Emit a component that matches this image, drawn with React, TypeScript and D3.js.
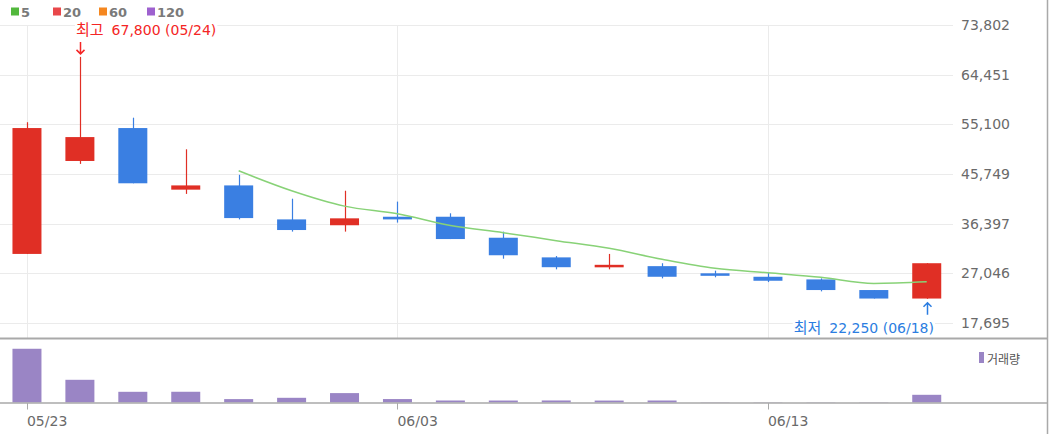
import React, { useEffect, useRef } from "react";
import * as d3 from "d3";

// trading days shown on the chart
const dates = [
  "05/23", "05/24", "05/27", "05/28", "05/29", "05/30", "05/31", "06/03", "06/04",
  "06/05", "06/07", "06/10", "06/11", "06/12", "06/13", "06/14", "06/17", "06/18",
];
const opens = [30700, 48200, 54400, 42800, 43600, 37200, 36100, 37700, 37700, 33750, 30050, 28200, 28400, 27050, 26400, 25900, 23900, 22300];
const highs = [55500, 67800, 56350, 50400, 45600, 41100, 42600, 40550, 38350, 34900, 30300, 30700, 28950, 27550, 27150, 26100, 23900, 28950];
const lows = [30700, 47650, 44000, 42000, 37200, 34900, 34900, 36600, 33500, 29800, 27800, 27800, 26100, 26300, 25400, 23650, 22300, 22250];
const closes = [54400, 52700, 44000, 43600, 37450, 35200, 37400, 37200, 33500, 30450, 28200, 28650, 26400, 26800, 25650, 23900, 22300, 28950];
// 5-day moving average
const ma5: (number | null)[] = [null, null, null, null, 46350, 42600, 39700, 38250, 36050, 34700, 33200, 31750, 29700, 28000, 27150, 26300, 25150, 25450];
const volumes = [1612000, 681000, 321000, 322000, 102000, 141000, 282000, 103000, 60000, 59000, 61000, 58000, 60000, 9000, 8000, 7000, 9000, 231000];

const priceTicks = [17695, 27046, 36397, 45749, 55100, 64451, 73802];
const dateTicks = ["05/23", "06/03", "06/13"];
const maLabels = ["5", "20", "60", "120"];
const maColors = ["#52b83c", "#e9474a", "#f5871f", "#9e61cf"];

const UP = "#e02f25";
const DOWN = "#3a7fe2";
const VOL = "#9a85c5";
const FONT = "'DejaVu Sans', 'Noto Sans CJK KR', sans-serif";
const KFONT = "'Noto Sans CJK KR', sans-serif";

const App: React.FC = () => {
  const ref = useRef<SVGSVGElement>(null);

  useEffect(() => {
    if (!ref.current) return;
    const svg = d3.select(ref.current);
    svg.selectAll("*").remove();

    const x = d3.scaleBand<string>().domain(dates).range([0.5, 953.2]).paddingInner(0.452).paddingOuter(0.226);
    const cx = (d: string) => (x(d) ?? 0) + x.bandwidth() / 2;
    const y = d3.scaleLinear().domain([17695, 73802]).range([323, 25]);
    const yv = d3.scaleLinear().domain([0, 1860000]).range([402.5, 340.5]);
    const fmt = d3.format(",");

    // grid
    const grid = svg.append("g");
    grid.selectAll("line.h").data(priceTicks).enter().append("line")
      .attr("x1", 0).attr("x2", 953)
      .attr("y1", (d) => Math.round(y(d)) + 0.5).attr("y2", (d) => Math.round(y(d)) + 0.5)
      .attr("stroke", "#ebebeb");
    grid.selectAll("line.v").data(dateTicks).enter().append("line")
      .attr("x1", (d) => Math.round(cx(d)) + 0.5).attr("x2", (d) => Math.round(cx(d)) + 0.5)
      .attr("y1", 25).attr("y2", 338)
      .attr("stroke", "#ebebeb");

    // y labels
    svg.append("g").selectAll("text").data(priceTicks).enter().append("text")
      .attr("x", 961).attr("y", (d) => y(d))
      .attr("dominant-baseline", "central")
      .attr("font-family", FONT).attr("font-size", 14).attr("fill", "#6a6a6a")
      .text((d) => fmt(d));

    // candles
    const rows = dates.map((d, i) => ({ d, o: opens[i], h: highs[i], l: lows[i], c: closes[i] }));
    const candles = svg.append("g").selectAll("g").data(rows).enter().append("g");
    candles.append("line")
      .attr("x1", (r) => Math.round(cx(r.d)) + 0.5).attr("x2", (r) => Math.round(cx(r.d)) + 0.5)
      .attr("y1", (r) => y(r.h)).attr("y2", (r) => y(r.l))
      .attr("stroke", (r) => (r.c >= r.o ? UP : DOWN)).attr("stroke-width", 1.2);
    candles.append("rect")
      .attr("x", (r) => x(r.d) ?? 0).attr("width", x.bandwidth())
      .attr("y", (r) => y(Math.max(r.o, r.c)))
      .attr("height", (r) => Math.max(2.5, Math.abs(y(r.o) - y(r.c))))
      .attr("fill", (r) => (r.c >= r.o ? UP : DOWN));

    // MA5
    const line = d3.line<number | null>()
      .defined((v) => v !== null)
      .x((_, i) => cx(dates[i]))
      .y((v) => y(v as number))
      .curve(d3.curveMonotoneX);
    svg.append("path").datum(ma5).attr("d", line)
      .attr("fill", "none").attr("stroke", "#88d277").attr("stroke-width", 1.5);

    // volume
    svg.append("g").selectAll("rect").data(volumes).enter().append("rect")
      .attr("x", (_, i) => x(dates[i]) ?? 0).attr("width", x.bandwidth())
      .attr("y", (v) => yv(v)).attr("height", (v) => yv(0) - yv(v))
      .attr("fill", VOL);

    // panel borders
    svg.append("line").attr("x1", 0).attr("x2", 1048).attr("y1", 338.5).attr("y2", 338.5)
      .attr("stroke", "#a9a9a9").attr("stroke-width", 2);
    svg.append("line").attr("x1", 0).attr("x2", 1048).attr("y1", 403).attr("y2", 403)
      .attr("stroke", "#a9a9a9").attr("stroke-width", 1.5);
    svg.append("line").attr("x1", 1047.5).attr("x2", 1047.5).attr("y1", 0).attr("y2", 434)
      .attr("stroke", "#a9a9a9").attr("stroke-width", 1.5);

    // date ticks
    const xt = svg.append("g").selectAll("g").data(dateTicks).enter().append("g");
    xt.append("line")
      .attr("x1", (d) => Math.round(cx(d)) + 0.5).attr("x2", (d) => Math.round(cx(d)) + 0.5)
      .attr("y1", 403).attr("y2", 409.5).attr("stroke", "#aaa");
    xt.append("text")
      .attr("x", (d) => cx(d)).attr("y", 426)
      .attr("font-family", FONT).attr("font-size", 14).attr("fill", "#6a6a6a")
      .text((d) => d);

    // MA legend
    const legendX = [11, 53, 99, 147];
    const lg = svg.append("g").selectAll("g").data(maLabels).enter().append("g")
      .attr("transform", (_, i) => `translate(${legendX[i]},0)`);
    lg.append("rect").attr("x", 0).attr("y", 7.5).attr("width", 8).attr("height", 8)
      .attr("fill", (_, i) => maColors[i]);
    lg.append("text").attr("x", 10).attr("y", 16.5)
      .attr("font-family", FONT).attr("font-size", 13).attr("font-weight", "bold").attr("fill", "#7a7a7a")
      .text((d) => d);

    // volume legend
    svg.append("rect").attr("x", 979).attr("y", 352).attr("width", 5).attr("height", 11).attr("fill", VOL);
    svg.append("text").attr("x", 987).attr("y", 358).attr("dominant-baseline", "central")
      .attr("font-family", KFONT).attr("font-size", 12).attr("fill", "#555")
      .text("거래량");

    // high / low markers
    const hiIdx = highs.indexOf(d3.max(highs) as number);
    const loIdx = lows.indexOf(d3.min(lows) as number);
    const hx = Math.round(cx(dates[hiIdx])) + 0.5;
    const lx = Math.round(cx(dates[loIdx])) + 0.5;

    const addLabel = (tx: number, ty: number, anchor: string, color: string, head: string, rest: string) => {
      const g = svg.append("g");
      const bg = g.append("rect").attr("fill", "#fff");
      const t = g.append("text").attr("x", tx).attr("y", ty).attr("text-anchor", anchor)
        .attr("font-family", FONT).attr("font-size", 14).attr("fill", color);
      t.append("tspan").attr("font-family", KFONT).attr("font-size", 15).text(head);
      t.append("tspan").attr("dx", 8).text(rest);
      const b = (t.node() as SVGTextElement).getBBox();
      bg.attr("x", b.x - 1).attr("y", b.y).attr("width", b.width + 2).attr("height", b.height);
    };

    addLabel(hx - 4.5, 35, "start", "#f42525", "최고", `${fmt(highs[hiIdx])} (${dates[hiIdx]})`);
    const hy = y(highs[hiIdx]);
    svg.append("path")
      .attr("d", `M${hx},42V${hy - 3}M${hx - 4},${hy - 7}L${hx},${hy - 3}L${hx + 4},${hy - 7}`)
      .attr("fill", "none").attr("stroke", "#f42525").attr("stroke-width", 1.5);

    addLabel(934, 333, "end", "#2b7de1", "최저", `${fmt(lows[loIdx])} (${dates[loIdx]})`);
    const ly = y(lows[loIdx]) + 4;
    svg.append("path")
      .attr("d", `M${lx},${ly}V${ly + 12}M${lx - 4},${ly + 4}L${lx},${ly}L${lx + 4},${ly + 4}`)
      .attr("fill", "none").attr("stroke", "#2b7de1").attr("stroke-width", 1.5);
  }, []);

  return (
    <svg
      ref={ref}
      width={1050}
      height={434}
      style={{ position: "absolute", left: 0, top: 0, display: "block", background: "#fff" }}
    />
  );
};

export default App;
